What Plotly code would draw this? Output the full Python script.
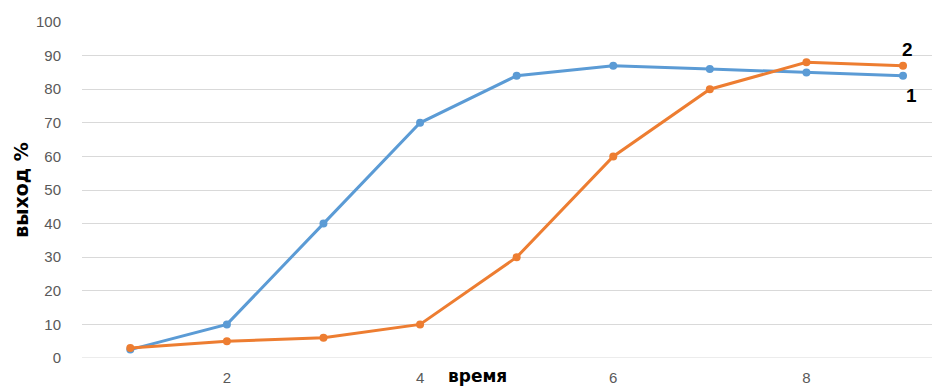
import plotly.graph_objects as go

# Reaction time steps and yield (%) for two runs
time_steps = [1, 2, 3, 4, 5, 6, 7, 8, 9]
yield_1 = [2.5, 10, 40, 70, 84, 87, 86, 85, 84]
yield_2 = [3, 5, 6, 10, 30, 60, 80, 88, 87]
x_ticks = [2, 4, 6, 8]
y_ticks = [0, 10, 20, 30, 40, 50, 60, 70, 80, 90, 100]

BLUE = "#5B9BD5"
ORANGE = "#ED7D31"

fig = go.Figure()
fig.add_trace(go.Scatter(
    x=time_steps, y=yield_1, mode="lines+markers", name="1",
    line=dict(color=BLUE, width=3), marker=dict(color=BLUE, size=8),
))
fig.add_trace(go.Scatter(
    x=time_steps, y=yield_2, mode="lines+markers", name="2",
    line=dict(color=ORANGE, width=3), marker=dict(color=ORANGE, size=8),
))

# Series labels next to the last points
fig.add_annotation(x=time_steps[-1], y=yield_2[-1], text="<b>2</b>", showarrow=False,
                   xanchor="left", yanchor="bottom", xshift=-3, yshift=4,
                   font=dict(size=19, color="black", family="Liberation Sans, Arial"))
fig.add_annotation(x=time_steps[-1], y=yield_1[-1], text="<b>1</b>", showarrow=False,
                   xanchor="left", yanchor="top", xshift=1, yshift=-7,
                   font=dict(size=19, color="black", family="Liberation Sans, Arial"))

# Axis titles
fig.add_annotation(x=0.465, xref="paper", y=-0.055, yref="paper", text="<b>время</b>",
                   showarrow=False, yanchor="middle", xanchor="center",
                   font=dict(size=17, color="black", family="DejaVu Sans, Verdana"))
fig.add_annotation(x=-0.072, xref="paper", y=0.5, yref="paper", text="<b>выход %</b>",
                   showarrow=False, textangle=-90, xanchor="center",
                   font=dict(size=19, color="black", family="DejaVu Sans, Verdana"))

fig.update_layout(
    width=933, height=389,
    margin=dict(l=82, r=1, t=22, b=31),
    paper_bgcolor="white", plot_bgcolor="white",
    showlegend=False,
    font=dict(family="Liberation Sans, Arial", size=15, color="#595959"),
)
fig.update_xaxes(
    range=[0.5, 9.3], tickvals=x_ticks, ticktext=[str(v) for v in x_ticks],
    showgrid=False, zeroline=False, showline=False, automargin=False,
    ticks="outside", ticklen=6, tickcolor="rgba(0,0,0,0)",
    tickfont=dict(size=15, color="#595959"),
)
fig.update_yaxes(
    range=[0, 100], tickvals=y_ticks, showgrid=True, gridcolor="#D9D9D9", gridwidth=1,
    zeroline=False, showline=False, automargin=False,
    ticks="outside", ticklen=17, tickcolor="rgba(0,0,0,0)",
    tickfont=dict(size=15, color="#595959"),
)
# Bottom axis line drawn as the lowest grid line
fig.add_shape(type="line", xref="paper", yref="y", x0=0, x1=1, y0=0, y1=0,
              line=dict(color="#D9D9D9", width=1), layer="below")

fig.write_html("out.html")
